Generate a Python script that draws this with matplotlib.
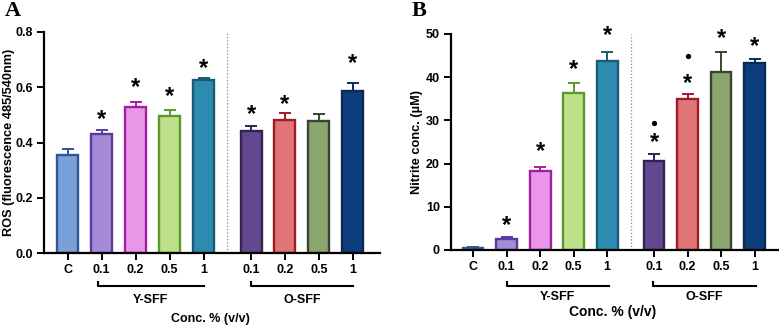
import matplotlib
matplotlib.use("Agg")
import matplotlib.pyplot as plt
import matplotlib.transforms as mtransforms

plt.rcParams['font.family'] = ['Liberation Sans', 'DejaVu Sans']
plt.rcParams['font.weight'] = 'bold'

labels = ["C", "0.1", "0.2", "0.5", "1", "0.1", "0.2", "0.5", "1"]
positions = [0, 1, 2, 3, 4, 5.4, 6.4, 7.4, 8.4]

fills = ["#7aa0d8", "#a58bd5", "#ea96e8", "#bde08a", "#2e8bb0",
         "#63478f", "#e07578", "#8aa56e", "#0c3d7c"]
edges = ["#2f5597", "#5b3aa0", "#a020a0", "#5a9a2a", "#1a5a78",
         "#2e2550", "#a01c24", "#3a4430", "#0a2a50"]

# panel A: ROS
ros_mean = [0.355, 0.430, 0.530, 0.497, 0.628, 0.443, 0.482, 0.477, 0.587]
ros_err = [0.020, 0.015, 0.017, 0.020, 0.005, 0.015, 0.025, 0.025, 0.029]
ros_star = [None, 0.507, 0.624, 0.591, 0.694, 0.528, 0.561, None, 0.712]

# panel B: nitrite
no_mean = [0.4, 2.5, 18.4, 36.4, 43.8, 20.6, 34.9, 41.1, 43.2]
no_err = [0.4, 0.4, 0.7, 2.3, 2.1, 1.7, 1.1, 4.8, 1.1]
no_star = [None, 7.3, 24.5, 43.4, 51.3, 26.4, 40.1, 50.5, 48.6]
no_dot = [None, None, None, None, None, 29.5, 44.8, None, None]

W, H = 779, 326
fig = plt.figure(figsize=(W / 100, H / 100), dpi=100)


def px(x0, y_top, x1, y_bot):
    return [x0 / W, 1 - y_bot / H, (x1 - x0) / W, (y_bot - y_top) / H]


def draw_panel(ax, mean, err, stars, dots, ylim, yticks, ylabel, xlim,
               divider, brackets, y_px_bracket, y_px_group, ylab_x):
    for i, p in enumerate(positions):
        ax.errorbar(p, mean[i], yerr=[[0], [err[i]]], color=edges[i],
                    capsize=4.3, elinewidth=1.4, capthick=1.4, zorder=1)
        ax.bar(p, mean[i], width=0.62, color=fills[i], edgecolor=edges[i],
               linewidth=1.7, zorder=2)
        if stars[i] is not None:
            ax.annotate("*", (p, stars[i]), xytext=(0, -5),
                        textcoords="offset points", ha="center", va="center",
                        fontsize=17, annotation_clip=False)
        if dots[i] is not None:
            ax.plot(p, dots[i], "o", color="black", ms=2.8, clip_on=False)
    ax.axvline(divider, color="#888888", ls=":", lw=0.9, zorder=0)
    ax.set_xlim(*xlim)
    ax.set_ylim(*ylim)
    ax.set_yticks(yticks)
    ax.set_xticks(positions)
    ax.set_xticklabels(labels, fontsize=9, fontweight="bold")
    for t in ax.get_yticklabels():
        t.set_fontsize(9)
        t.set_fontweight("bold")
    ax.tick_params(direction="out", width=1.4, length=5, pad=3)
    for s in ["top", "right"]:
        ax.spines[s].set_visible(False)
    for s in ["left", "bottom"]:
        ax.spines[s].set_linewidth(1.6)
    ax.set_ylabel(ylabel, fontsize=9.2, fontweight="bold")
    ax.yaxis.set_label_coords(ylab_x, 0.5)

    tr = mtransforms.blended_transform_factory(ax.transData, fig.transFigure)
    yb = 1 - y_px_bracket / H
    yt = yb + 4 / H
    yg = 1 - y_px_group / H
    for (x0, x1, name) in brackets:
        ax.plot([x0, x0, x1], [yt, yb, yb], color="black", lw=1.5,
                transform=tr, clip_on=False)
        ax.text((x0 + x1) / 2, yg, name, transform=tr, ha="center",
                va="center", fontsize=9, fontweight="bold")


axA = fig.add_axes(px(44, 32, 380, 253))
draw_panel(axA, ros_mean, ros_err, ros_star, [None] * 9, (0, 0.8),
           [0.0, 0.2, 0.4, 0.6, 0.8], "ROS (fluorescence 485/540nm)",
           (-0.7, 9.2), 4.68,
           [(0.9, 4.0, "Y-SFF"), (5.4, 8.4, "O-SFF")], 286, 300, -0.087)

axB = fig.add_axes(px(451, 34, 779, 250))
draw_panel(axB, no_mean, no_err, no_star, no_dot, (0, 50),
           [0, 10, 20, 30, 40, 50], "Nitrite conc. (µM)",
           (-0.66, 9.13), 4.7,
           [(1.0, 4.06, "Y-SFF"), (5.37, 8.45, "O-SFF")], 286, 297, -0.085)

fig.text(210 / W, 1 - 319 / H, "Conc. % (v/v)", ha="center", va="center",
         fontsize=9, fontweight="bold")
fig.text(613 / W, 1 - 312 / H, "Conc. % (v/v)", ha="center", va="center",
         fontsize=10, fontweight="bold")

fig.text(5 / W, 1 - 11 / H, "A", ha="left", va="center", fontsize=16,
         fontweight="bold", family="Liberation Serif")
fig.text(412 / W, 1 - 11 / H, "B", ha="left", va="center", fontsize=16,
         fontweight="bold", family="Liberation Serif")

fig.savefig("out.png", dpi=100)
